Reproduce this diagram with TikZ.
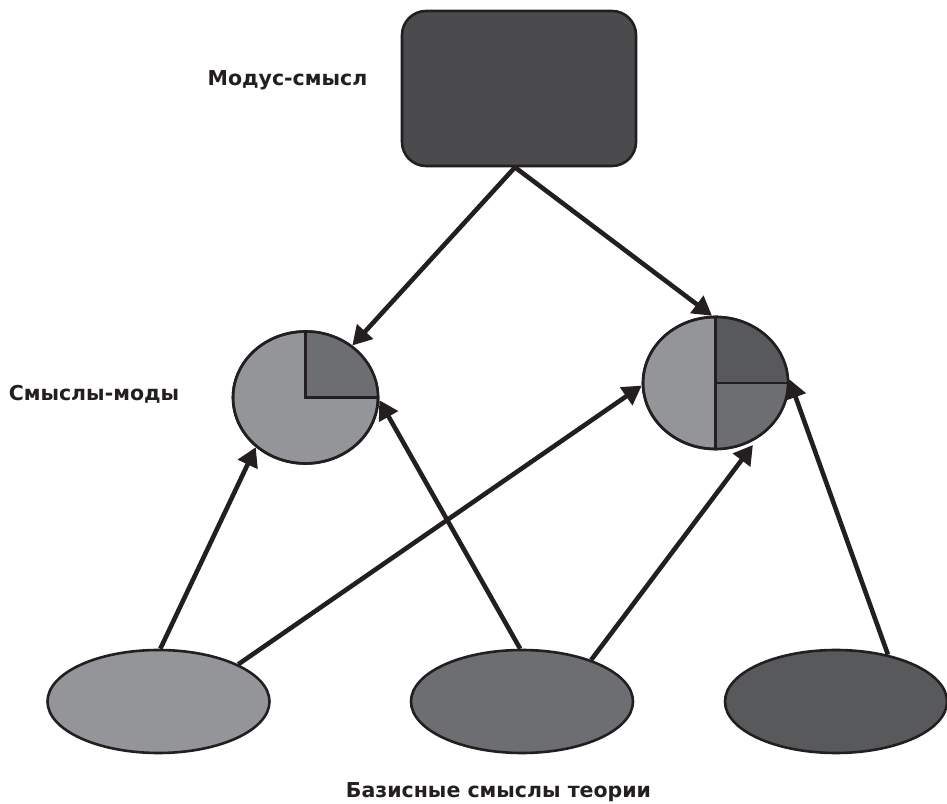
\documentclass[tikz,border=0pt]{standalone}
\usepackage{fontspec}
\setmainfont{DejaVu Sans}
\usetikzlibrary{shapes.geometric,arrows.meta}
\definecolor{inkline}{HTML}{231F20}
\definecolor{greylight}{HTML}{939598}
\definecolor{greymid}{HTML}{6D6E71}
\definecolor{greydark}{HTML}{58595B}
\definecolor{greytop}{HTML}{4B4B4D}
\tikzset{
  x=1pt, y=1pt,
  outline/.style={draw=inkline, line width=2.6pt},
  topbox/.style={outline, rectangle, rounded corners=24pt, fill=greytop,
    minimum width=234pt, minimum height=155pt, inner sep=0pt},
  modecircle/.style={outline, ellipse, minimum width=145pt, minimum height=132pt,
    inner sep=0pt},
  baseoval/.style={outline, ellipse, minimum width=222pt, minimum height=103pt,
    inner sep=0pt},
  link/.style={draw=inkline, line width=4.6pt,
    -{Triangle[length=19pt,width=21pt]}},
  caption/.style={font=\bfseries\fontsize{20.5}{24}\selectfont, text=inkline,
    inner sep=0pt, anchor=base},
}
\begin{document}
\begin{tikzpicture}
\useasboundingbox (0,0) rectangle (947,803);

% top level
\node[topbox] (top) at (519,714.5) {};

% middle level: two mode circles
\node[modecircle, fill=greylight] (lc) at (305.5,405.5) {};
\node[modecircle, fill=greylight] (rc) at (715.5,420) {};

% sectors of the left circle
\fill[greymid] (lc.center) -- (lc.north) arc[start angle=90, end angle=0,
  x radius=72.5pt, y radius=66pt] -- cycle;
\draw[inkline, line width=2.6pt] (lc.north) -- (lc.center) -- (lc.east);
\draw[outline] (lc.center) ellipse[x radius=72.5pt, y radius=66pt];

% sectors of the right circle
\fill[greydark] (rc.center) -- (rc.north) arc[start angle=90, end angle=0,
  x radius=72.5pt, y radius=66pt] -- cycle;
\fill[greymid] (rc.center) -- (rc.east) arc[start angle=0, end angle=-90,
  x radius=72.5pt, y radius=66pt] -- cycle;
\draw[inkline, line width=2.6pt] (rc.north) -- (rc.south) (rc.center) -- (rc.east);
\draw[outline] (rc.center) ellipse[x radius=72.5pt, y radius=66pt];

% bottom level
\node[baseoval, fill=greylight] (le) at (158.5,101.5) {};
\node[baseoval, fill=greymid]   (me) at (522,101.5) {};
\node[baseoval, fill=greydark]  (re) at (836,101.5) {};

% captions
\node[caption] (capTop) at (287.5,717) {Модус-смысл};
\node[caption] (capMid) at (94,402) {Смыслы-моды};
\node[caption] (capBot) at (498.5,6) {Базисные смыслы теории};

% connectors
\draw[link] ([xshift=-4pt]top.south) -- (lc.48);
\draw[link] ([xshift=-4pt]top.south) -- (rc.93);
\draw[link] (le.88) -- (lc.225);
\draw[link] (le.25) -- (rc.182);
\draw[link] (me.92) -- (lc.-2);
\draw[link, shorten >=9pt] (me.31) -- (rc.-52);
\draw[link] (re.42) -- (rc.3);
\end{tikzpicture}
\end{document}
